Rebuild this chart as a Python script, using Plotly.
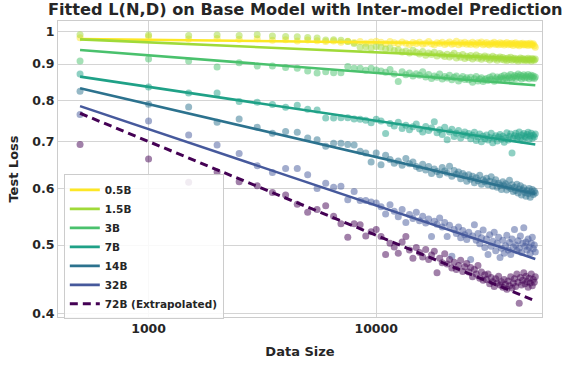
import plotly.graph_objects as go

# ---------------- data ----------------
data_size = list(range(500, 50001, 500))

model_names = ["0.5B", "1.5B", "3B", "7B", "14B", "32B", "72B (Extrapolated)"]
model_colors = ["#fde725", "#a0da39", "#4ac16d", "#1fa187", "#2c728e", "#46599c", "#440154"]

loss_0_5b = [
    0.980, 0.983, 0.976, 0.978, 0.975, 0.977, 0.972, 0.974, 0.970, 0.973,
    0.971, 0.968, 0.970, 0.966, 0.969, 0.965, 0.968, 0.963, 0.967, 0.969,
    0.966, 0.962, 0.968, 0.964, 0.961, 0.967, 0.963, 0.959, 0.965, 0.962,
    0.966, 0.960, 0.963, 0.968, 0.961, 0.958, 0.964, 0.962, 0.966, 0.959,
    0.963, 0.967, 0.960, 0.962, 0.969, 0.958, 0.964, 0.961, 0.966, 0.960,
    0.963, 0.959, 0.966, 0.961, 0.957, 0.964, 0.962, 0.967, 0.958, 0.961,
    0.965, 0.960, 0.957, 0.963, 0.961, 0.966, 0.959, 0.962, 0.958, 0.964,
    0.960, 0.963, 0.957, 0.961, 0.965, 0.958, 0.962, 0.959, 0.963, 0.956,
    0.961, 0.964, 0.958, 0.960, 0.955, 0.962, 0.959, 0.963, 0.957, 0.960,
    0.958, 0.962, 0.956, 0.960, 0.963, 0.957, 0.959, 0.961, 0.955, 0.950,
]
loss_1_5b = [
    0.990, 0.989, 0.987, 0.989, 0.987, 0.990, 0.986, 0.984, 0.983, 0.981,
    0.979, 0.973, 0.974, 0.972, 0.968, 0.962, 0.950, 0.952, 0.948, 0.953,
    0.950, 0.945, 0.948, 0.940, 0.943, 0.936, 0.939, 0.933, 0.941, 0.935,
    0.930, 0.937, 0.926, 0.933, 0.928, 0.935, 0.924, 0.931, 0.927, 0.922,
    0.929, 0.921, 0.926, 0.932, 0.918, 0.925, 0.920, 0.928, 0.916, 0.923,
    0.919, 0.925, 0.915, 0.921, 0.927, 0.917, 0.922, 0.914, 0.920, 0.924,
    0.916, 0.921, 0.912, 0.918, 0.923, 0.915, 0.919, 0.911, 0.917, 0.921,
    0.914, 0.919, 0.912, 0.916, 0.910, 0.918, 0.913, 0.920, 0.911, 0.915,
    0.917, 0.912, 0.915, 0.909, 0.914, 0.918, 0.911, 0.916, 0.913, 0.910,
    0.915, 0.911, 0.917, 0.912, 0.914, 0.909, 0.916, 0.913, 0.911, 0.915,
]
loss_3b = [
    0.909, 0.915, 0.909, 0.891, 0.904, 0.894, 0.894, 0.890, 0.888, 0.880,
    0.874, 0.878, 0.875, 0.875, 0.893, 0.888, 0.888, 0.882, 0.888, 0.883,
    0.880, 0.876, 0.884, 0.871, 0.850, 0.878, 0.869, 0.874, 0.866, 0.872,
    0.868, 0.878, 0.863, 0.870, 0.859, 0.866, 0.862, 0.871, 0.857, 0.864,
    0.860, 0.868, 0.855, 0.862, 0.866, 0.852, 0.859, 0.864, 0.856, 0.861,
    0.855, 0.862, 0.848, 0.858, 0.864, 0.852, 0.857, 0.861, 0.850, 0.856,
    0.859, 0.853, 0.862, 0.856, 0.866, 0.851, 0.858, 0.863, 0.855, 0.860,
    0.864, 0.857, 0.868, 0.860, 0.855, 0.866, 0.861, 0.870, 0.858, 0.863,
    0.867, 0.859, 0.865, 0.871, 0.862, 0.868, 0.857, 0.864, 0.869, 0.860,
    0.866, 0.862, 0.870, 0.858, 0.864, 0.868, 0.861, 0.866, 0.859, 0.863,
]
loss_7b = [
    0.871, 0.835, 0.819, 0.819, 0.797, 0.795, 0.789, 0.782, 0.787, 0.777,
    0.775, 0.755, 0.755, 0.756, 0.756, 0.753, 0.752, 0.750, 0.744, 0.752,
    0.748, 0.718, 0.742, 0.736, 0.745, 0.730, 0.738, 0.727, 0.734, 0.741,
    0.729, 0.722, 0.735, 0.725, 0.731, 0.746, 0.720, 0.727, 0.716, 0.733,
    0.704, 0.722, 0.728, 0.711, 0.719, 0.725, 0.708, 0.716, 0.722, 0.713,
    0.718, 0.706, 0.714, 0.721, 0.702, 0.710, 0.717, 0.699, 0.712, 0.706,
    0.715, 0.703, 0.709, 0.719, 0.697, 0.708, 0.713, 0.701, 0.710, 0.716,
    0.705, 0.712, 0.698, 0.708, 0.720, 0.703, 0.711, 0.717, 0.674, 0.707,
    0.713, 0.719, 0.706, 0.711, 0.722, 0.708, 0.715, 0.702, 0.718, 0.712,
    0.709, 0.716, 0.721, 0.705, 0.713, 0.719, 0.707, 0.714, 0.710, 0.717,
]
loss_14b = [
    0.824, 0.790, 0.783, 0.745, 0.753, 0.733, 0.719, 0.723, 0.721, 0.708,
    0.704, 0.689, 0.696, 0.696, 0.693, 0.692, 0.678, 0.674, 0.655, 0.674,
    0.649, 0.669, 0.660, 0.652, 0.657, 0.648, 0.662, 0.651, 0.655, 0.645,
    0.641, 0.650, 0.638, 0.645, 0.631, 0.640, 0.635, 0.628, 0.643, 0.636,
    0.632, 0.646, 0.625, 0.637, 0.629, 0.634, 0.620, 0.631, 0.626, 0.615,
    0.628, 0.619, 0.625, 0.612, 0.622, 0.616, 0.627, 0.609, 0.618, 0.614,
    0.621, 0.608, 0.615, 0.624, 0.605, 0.612, 0.618, 0.603, 0.611, 0.607,
    0.599, 0.614, 0.606, 0.610, 0.598, 0.604, 0.617, 0.601, 0.608, 0.595,
    0.603, 0.597, 0.609, 0.592, 0.600, 0.606, 0.588, 0.598, 0.602, 0.593,
    0.586, 0.597, 0.591, 0.601, 0.584, 0.594, 0.599, 0.589, 0.596, 0.592,
]
loss_32b = [
    0.764, 0.748, 0.715, 0.692, 0.673, 0.647, 0.633, 0.641, 0.641, 0.628,
    0.601, 0.611, 0.603, 0.605, 0.579, 0.595, 0.578, 0.578, 0.575, 0.573,
    0.566, 0.553, 0.570, 0.558, 0.548, 0.561, 0.538, 0.552, 0.545, 0.556,
    0.541, 0.549, 0.537, 0.544, 0.514, 0.540, 0.535, 0.546, 0.530, 0.538,
    0.514, 0.533, 0.482, 0.526, 0.519, 0.530, 0.512, 0.524, 0.517, 0.509,
    0.521, 0.477, 0.515, 0.534, 0.508, 0.519, 0.502, 0.512, 0.525, 0.496,
    0.510, 0.485, 0.517, 0.498, 0.506, 0.521, 0.491, 0.503, 0.513, 0.480,
    0.495, 0.508, 0.487, 0.499, 0.516, 0.492, 0.504, 0.485, 0.510, 0.497,
    0.526, 0.500, 0.491, 0.507, 0.495, 0.515, 0.488, 0.503, 0.529, 0.498,
    0.505, 0.492, 0.510, 0.497, 0.487, 0.503, 0.513, 0.494, 0.500, 0.489,
]
loss_72b = [
    0.693, 0.661, 0.613, 0.634, 0.614, 0.606, 0.593, 0.588, 0.571, 0.556,
    0.561, 0.568, 0.549, 0.536, 0.513, 0.536, 0.534, 0.515, 0.522, 0.526,
    0.514, 0.485, 0.503, 0.497, 0.487, 0.505, 0.514, 0.492, 0.479, 0.496,
    0.488, 0.481, 0.493, 0.477, 0.484, 0.490, 0.457, 0.479, 0.472, 0.486,
    0.470, 0.477, 0.464, 0.473, 0.462, 0.468, 0.476, 0.459, 0.466, 0.471,
    0.458, 0.465, 0.451, 0.462, 0.455, 0.468, 0.449, 0.458, 0.446, 0.454,
    0.447, 0.455, 0.441, 0.450, 0.444, 0.437, 0.448, 0.442, 0.452, 0.439,
    0.444, 0.436, 0.447, 0.440, 0.433, 0.445, 0.438, 0.451, 0.435, 0.442,
    0.448, 0.437, 0.455, 0.443, 0.414, 0.450, 0.439, 0.446, 0.457, 0.441,
    0.452, 0.444, 0.436, 0.449, 0.442, 0.455, 0.438, 0.447, 0.443, 0.451,
]
observed = [loss_0_5b, loss_1_5b, loss_3b, loss_7b, loss_14b, loss_32b, loss_72b]

# fitted power-law curves: value at the first and last data size
fit_x = [500, 50000]
fit_start = [0.976, 0.975, 0.942, 0.864, 0.832, 0.785, 0.767]
fit_end = [0.960, 0.914, 0.840, 0.693, 0.590, 0.478, 0.417]

y_ticks = [0.4, 0.5, 0.6, 0.7, 0.8, 0.9, 1.0]
y_tick_text = ["0.4", "0.5", "0.6", "0.7", "0.8", "0.9", "1"]
x_ticks = [1000, 10000]
x_tick_text = ["1000", "10000"]

# ---------------- figure ----------------
FONT = "DejaVu Sans"
TXT = "#262626"
GRID = "#d4d4d4"

fig = go.Figure()

for name, color, vals in zip(model_names, model_colors, observed):
    fig.add_trace(go.Scatter(
        x=data_size, y=vals, mode="markers",
        marker=dict(size=7, color=color, opacity=0.5, line=dict(width=0)),
        showlegend=False, hoverinfo="skip",
    ))

for i, (name, color) in enumerate(zip(model_names, model_colors)):
    dashed = i == len(model_names) - 1
    fig.add_trace(go.Scatter(
        x=fit_x, y=[fit_start[i], fit_end[i]], mode="lines", name=name,
        line=dict(color=color, width=3 if dashed else 2.6,
                  dash="8px,5px" if dashed else "solid"),
    ))

fig.update_layout(
    width=569, height=367,
    margin=dict(l=58, r=27, t=21, b=50, autoexpand=False),
    paper_bgcolor="white", plot_bgcolor="white",
    font=dict(family=FONT, color=TXT, size=12),
    title=dict(
        text="Fitted L(N,D) on Base Model with Inter-model Prediction",
        x=48 / 569, xanchor="left", xref="container",
        y=1 - 9 / 367, yanchor="middle", yref="container",
        font=dict(family=FONT, size=16.2, color=TXT, weight="bold"),
    ),
    legend=dict(
        x=0.012, y=-0.008, xanchor="left", yanchor="bottom",
        bgcolor="rgba(255,255,255,0.85)", bordercolor="#cccccc", borderwidth=1,
        font=dict(family=FONT, size=10.5, color=TXT, weight="bold"),
        itemwidth=30, tracegroupgap=0,
    ),
    showlegend=True,
)

fig.update_xaxes(
    type="log", range=[2.6021, 4.7284], automargin=False,
    tickvals=x_ticks, ticktext=x_tick_text,
    tickfont=dict(family=FONT, size=12.5, color=TXT, weight="bold"),
    showgrid=True, gridcolor=GRID, gridwidth=1.2,
    showline=True, linecolor="#cccccc", linewidth=1.2, mirror=True,
    ticks="", zeroline=False,
    title=dict(text="Data Size", standoff=11,
               font=dict(family=FONT, size=13, color=TXT, weight="bold")),
)
fig.update_yaxes(
    type="log", range=[-0.4025, 0.0149], automargin=False,
    tickvals=y_ticks, ticktext=y_tick_text,
    tickfont=dict(family=FONT, size=12.5, color=TXT, weight="bold"),
    showgrid=True, gridcolor=GRID, gridwidth=1.2,
    showline=True, linecolor="#cccccc", linewidth=1.2, mirror=True,
    ticks="", zeroline=False,
    title=dict(text="Test Loss", standoff=10,
               font=dict(family=FONT, size=13, color=TXT, weight="bold")),
)

fig.write_html(
    "out.html",
    config={"displayModeBar": False},
    post_script="document.body.style.margin='0';document.body.style.overflow='hidden';",
)
